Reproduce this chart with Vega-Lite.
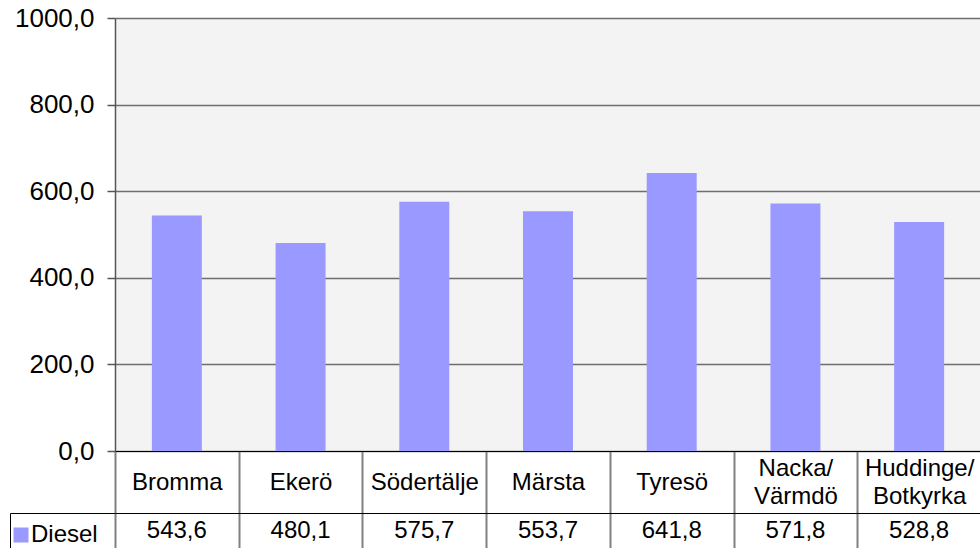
{
  "$schema": "https://vega.github.io/schema/vega-lite/v6.json",
  "padding": {"left": 9, "top": 5, "right": 0, "bottom": 0},
  "background": "white",
  "datasets": {
    "diesel": [
      {"area": "Bromma", "series": "Diesel", "value": 543.6},
      {"area": "Ekerö", "series": "Diesel", "value": 480.1},
      {"area": "Södertälje", "series": "Diesel", "value": 575.7},
      {"area": "Märsta", "series": "Diesel", "value": 553.7},
      {"area": "Tyresö", "series": "Diesel", "value": 641.8},
      {"area": "Nacka/Värmdö", "series": "Diesel", "value": 571.8},
      {"area": "Huddinge/Botkyrka", "series": "Diesel", "value": 528.8}
    ]
  },
  "data": {"name": "diesel"},
  "bounds": "flush",
  "spacing": 62,
  "vconcat": [
    {
      "width": 866,
      "height": 433,
      "view": {"fill": "#f3f3f3", "stroke": null},
      "mark": {"type": "bar", "width": {"band": 0.404}},
      "encoding": {
        "x": {
          "field": "area", "type": "nominal", "sort": null,
          "scale": {"paddingInner": 0, "paddingOuter": 0},
          "axis": {
            "title": null, "labelAngle": 0, "orient": "bottom",
            "tickBand": "extent", "ticks": true, "tickSize": 62, "tickColor": "#808080", "tickWidth": 2,
            "domainColor": "#000000", "domainWidth": 1,
            "labelFontSize": 24, "labelFont": "Liberation Sans", "labelColor": "#000000",
            "labelBaseline": "middle", "labelPadding": -45, "labelLineHeight": 14,
            "labelExpr": "indexof(datum.label, '/') >= 0 ? [slice(datum.label, 0, indexof(datum.label, '/') + 1), '\u200b', slice(datum.label, indexof(datum.label, '/') + 1)] : ['\u200b', datum.label]"
          }
        },
        "y": {
          "field": "value", "type": "quantitative",
          "scale": {"domain": [0, 1000], "nice": false},
          "axis": {
            "title": null, "values": [0, 200, 400, 600, 800, 1000], "format": ".1f",
            "tickSize": 8, "tickColor": "#555555", "tickWidth": 1.5,
            "domainColor": "#555555", "domainWidth": 1.5,
            "labelFontSize": 26, "labelFont": "Liberation Sans", "labelColor": "#000000", "labelPadding": 13,
            "grid": true, "gridColor": "#6e6e6e", "gridWidth": 1.5
          }
        },
        "color": {
          "field": "series", "type": "nominal",
          "scale": {"range": ["#9999ff"]},
          "legend": {
            "title": null, "orient": "none", "legendX": -106, "legendY": 505,
            "symbolType": "square", "symbolSize": 225, "symbolStrokeWidth": 0,
            "labelFontSize": 24, "labelFont": "Liberation Sans", "labelColor": "#000000",
            "labelOffset": -2, "padding": 0
          }
        }
      }
    },
    {
      "width": 866,
      "height": 36,
      "view": {"stroke": null},
      "mark": {"type": "text", "fontSize": 24, "font": "Liberation Sans", "color": "#000000", "baseline": "middle"},
      "encoding": {
        "x": {
          "field": "area", "type": "nominal", "sort": null,
          "scale": {"paddingInner": 0, "paddingOuter": 0},
          "axis": {
            "title": null, "orient": "top", "labels": false, "ticks": false,
            "tickBand": "extent", "grid": true, "gridColor": "#808080", "gridWidth": 2,
            "domainColor": "#000000", "domainWidth": 1
          }
        },
        "y": {
          "field": "series", "type": "nominal",
          "axis": {
            "title": null, "labels": false, "offset": 105,
            "tickBand": "extent", "tickSize": -105, "tickColor": "#000000", "tickWidth": 1,
            "domainColor": "#000000", "domainWidth": 1, "grid": false
          }
        },
        "text": {"field": "value", "type": "quantitative", "format": ".1f"}
      }
    }
  ],
  "resolve": {"scale": {"x": "independent"}},
  "config": {
    "locale": {
      "number": {"decimal": ",", "thousands": " ", "grouping": [3], "currency": ["", " kr"]}
    },
    "font": "Liberation Sans",
    "concat": {"spacing": 62}
  }
}
